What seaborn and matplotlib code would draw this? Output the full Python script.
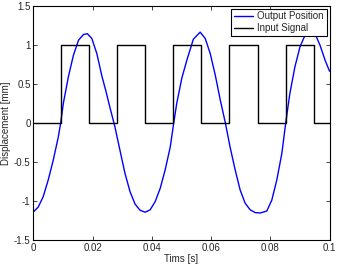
import numpy as np
import pandas as pd
import matplotlib
matplotlib.use('Agg')
import matplotlib.pyplot as plt
import seaborn as sns

# output position (blue)
t_out = [0.0000, 0.0016, 0.0033, 0.0050, 0.0067, 0.0084, 0.0092, 0.0101, 0.0118, 0.0135,
         0.0152, 0.0169, 0.0182, 0.0197, 0.0214, 0.0231, 0.0245, 0.0258, 0.0275, 0.0292,
         0.0309, 0.0326, 0.0343, 0.0360, 0.0377, 0.0394, 0.0411, 0.0428, 0.0445, 0.0462,
         0.0473, 0.0484, 0.0501, 0.0518, 0.0540, 0.0563, 0.0580, 0.0597, 0.0614, 0.0631,
         0.0648, 0.0664, 0.0681, 0.0698, 0.0715, 0.0732, 0.0749, 0.0766, 0.0788, 0.0805,
         0.0822, 0.0839, 0.0852, 0.0866, 0.0883, 0.0900, 0.0917, 0.0934, 0.0951, 0.0968,
         0.0985, 0.1000]
y_out = [-1.14, -1.08, -0.945, -0.73, -0.476, -0.18, 0.0, 0.25, 0.59, 0.865,
         1.056, 1.13, 1.14, 1.08, 0.886, 0.60, 0.40, 0.20, -0.05, -0.35,
         -0.646, -0.88, -1.04, -1.12, -1.145, -1.115, -1.01, -0.84, -0.6, -0.31,
         -0.02, 0.25, 0.57, 0.80, 1.07, 1.16, 1.08, 0.886, 0.61, 0.29,
         0.0, -0.31, -0.6, -0.86, -1.03, -1.115, -1.15, -1.155, -1.13, -0.99,
         -0.73, -0.39, 0.0, 0.375, 0.715, 0.97, 1.12, 1.17, 1.14, 0.99,
         0.80, 0.66]

# input signal (black square wave), edge times and levels
t_in = [0.0, 0.0092, 0.0187, 0.0282, 0.0377, 0.0472, 0.0567, 0.0662, 0.0757, 0.0852, 0.0947, 0.1]
u_in = [0, 1, 0, 1, 0, 1, 0, 1, 0, 1, 0, 0]

xticks = [0, 0.02, 0.04, 0.06, 0.08, 0.1]
xlabels = ['0', '0.02', '0.04', '0.06', '0.08', '0.1']
yticks = [-1.5, -1, -0.5, 0, 0.5, 1, 1.5]
ylabels = ['-1.5', '-1', '-0.5', '0', '0.5', '1', '1.5']

sns.set_style('ticks')
plt.rcParams['font.family'] = ['Liberation Sans', 'DejaVu Sans']

fig = plt.figure(figsize=(3.38, 2.66), dpi=100)
ax = fig.add_axes([0.099, 0.098, 0.876, 0.881])

out_df = pd.DataFrame({'t': t_out, 'y': y_out})
in_df = pd.DataFrame({'t': t_in, 'u': u_in})
sns.lineplot(data=out_df, x='t', y='y', ax=ax, color='#0000ff', lw=1.0,
             estimator=None, sort=False, label='Output Position')
sns.lineplot(data=in_df, x='t', y='u', ax=ax, color='black', lw=1.0,
             estimator=None, sort=False, drawstyle='steps-post', label='Input Signal')

ax.set_xlim(0, 0.1)
ax.set_ylim(-1.5, 1.5)
ax.set_xticks(xticks)
ax.set_xticklabels(xlabels)
ax.set_yticks(yticks)
ax.set_yticklabels(ylabels)
ax.tick_params(direction='in', top=True, right=True, labelsize=7, length=3, width=0.6, pad=2)
for s in ax.spines.values():
    s.set_linewidth(0.8)
    s.set_color('black')
ax.set_xlabel('Tims [s]', fontsize=7, labelpad=1)
ax.set_ylabel('Displacement [mm]', fontsize=7, labelpad=2)

leg = ax.legend(loc='upper right', fontsize=7, handlelength=2.0, fancybox=False,
                framealpha=1, edgecolor='black', borderpad=0.3, labelspacing=0.2,
                handletextpad=0.4, borderaxespad=0.3)
leg.get_frame().set_linewidth(0.8)

fig.savefig('out.png', dpi=100)
